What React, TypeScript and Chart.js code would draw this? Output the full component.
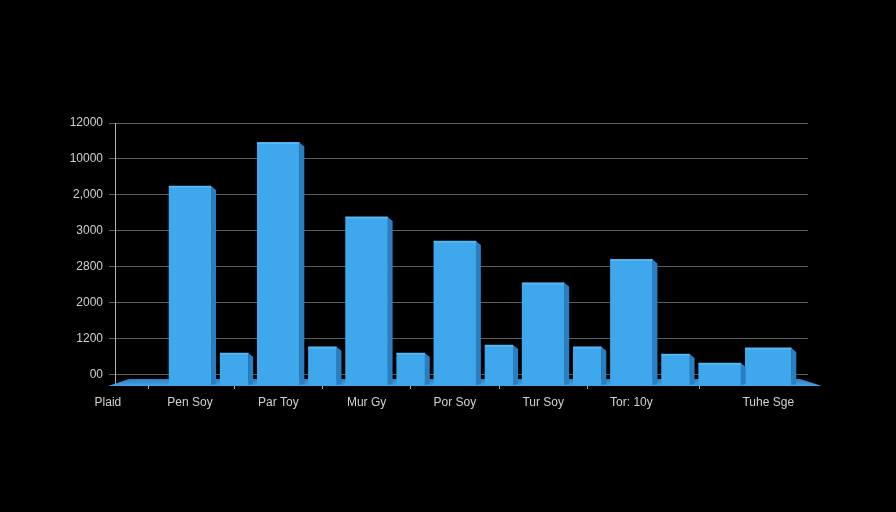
import React, { useEffect, useRef } from "react";
import { Chart, registerables } from "chart.js";

Chart.register(...registerables);

// Axis labels (as printed in the picture)
const xTickLabels = ["Plaid", "Pen Soy", "Par Toy", "Mur Gy", "Por Soy", "Tur Soy", "Tor: 10y", "Tuhe Sge"];
const xTickValues = [0.07, 1, 2, 3, 4, 5, 6, 7.55];
const yTickLabels = ["00", "1200", "2000", "2800", "3000", "2,000", "10000", "12000"];
const yTickValues = [0, 1, 2, 3, 4, 5, 6, 7];

// Bars (values in gridline units)
const mainX = [1, 2, 3, 4, 5, 6, 7];
const mainValues = [5.25, 6.46, 4.39, 3.72, 2.56, 3.21, 0.33];
const secondaryX = [1.5, 2.5, 3.5, 4.5, 5.5, 6.5];
const secondaryValues = [0.61, 0.78, 0.61, 0.83, 0.78, 0.58];
const tailX = [7.55];
const tailValues = [0.75];

const X_MIN = 0.15;
const X_MAX = 8.0;
const Y_MIN = -0.28;
const Y_MAX = 7;

const FONT = { family: "'Liberation Sans', Arial, sans-serif", size: 12 };
const TEXT = "#d2d2d2";
const BAR = "#3fa7ec";
const SIDE = "#2a7fc2";

const floorPlugin = {
  id: "floor",
  beforeDatasetsDraw(chart: any) {
    const { ctx, chartArea } = chart;
    const { left, right, bottom } = chartArea;
    ctx.save();
    const g = ctx.createLinearGradient(0, bottom - 6, 0, bottom + 2);
    g.addColorStop(0, "#2f7fbf");
    g.addColorStop(1, "#47a9ee");
    ctx.fillStyle = g;
    ctx.beginPath();
    ctx.moveTo(left - 7, bottom + 1);
    ctx.lineTo(left + 14, bottom - 6);
    ctx.lineTo(right - 8, bottom - 6);
    ctx.lineTo(right + 14, bottom + 1);
    ctx.closePath();
    ctx.fill();
    ctx.restore();
  },
};

const sidePlugin = {
  id: "sides",
  afterDatasetsDraw(chart: any) {
    const { ctx } = chart;
    ctx.save();
    chart.data.datasets.forEach((_: any, di: number) => {
      const meta = chart.getDatasetMeta(di);
      meta.data.forEach((el: any) => {
        const { x, y, base, width } = el.getProps(["x", "y", "base", "width"], true);
        const r = x + width / 2;
        const d = 5;
        ctx.fillStyle = SIDE;
        ctx.beginPath();
        ctx.moveTo(r, y);
        ctx.lineTo(r + d, y + 4);
        ctx.lineTo(r + d, base - 1);
        ctx.lineTo(r, base);
        ctx.closePath();
        ctx.fill();
        ctx.fillStyle = "#5bb8f2";
        ctx.fillRect(x - width / 2, y, width, 1.5);
      });
    });
    ctx.restore();
  },
};

export default function App() {
  const ref = useRef<HTMLCanvasElement | null>(null);

  useEffect(() => {
    document.body.style.background = "#000";
    if (!ref.current) return;
    const common = { backgroundColor: BAR, base: Y_MIN, grouped: false, borderWidth: 0 };
    const chart = new Chart(ref.current, {
      type: "bar",
      data: {
        datasets: [
          { label: "main", data: mainX.map((x, i) => ({ x, y: mainValues[i] })), barThickness: 42, ...common } as any,
          { label: "secondary", data: secondaryX.map((x, i) => ({ x, y: secondaryValues[i] })), barThickness: 28, ...common } as any,
          { label: "tail", data: tailX.map((x, i) => ({ x, y: tailValues[i] })), barThickness: 46, ...common } as any,
        ],
      },
      plugins: [floorPlugin, sidePlugin],
      options: {
        animation: false,
        responsive: false,
        maintainAspectRatio: false,
        layout: { padding: { left: 0, top: 123, right: 88, bottom: 97 } },
        plugins: { legend: { display: false }, tooltip: { enabled: false } },
        scales: {
          x: {
            type: "linear",
            min: X_MIN,
            max: X_MAX,
            offset: false,
            afterBuildTicks: (s: any) => {
              s.ticks = xTickValues.map((v) => ({ value: v }));
            },
            afterFit: (s: any) => {
              s.height = 30;
            },
            ticks: {
              autoSkip: false,
              maxRotation: 0,
              padding: 6,
              color: TEXT,
              font: FONT,
              callback: (v: any) => {
                const i = xTickValues.indexOf(Number(v));
                return i >= 0 ? xTickLabels[i] : "";
              },
            },
            grid: { drawOnChartArea: false, drawTicks: true, tickLength: 4, color: "#8fb6d6" },
            border: { display: true, color: "#8fc4ee", width: 1 },
          },
          y: {
            type: "linear",
            min: Y_MIN,
            max: Y_MAX,
            afterBuildTicks: (s: any) => {
              s.ticks = yTickValues.map((v) => ({ value: v }));
            },
            afterFit: (s: any) => {
              s.width = 115;
            },
            ticks: {
              padding: 6,
              color: TEXT,
              font: FONT,
              callback: (v: any) => {
                const i = yTickValues.indexOf(Number(v));
                return i >= 0 ? yTickLabels[i] : "";
              },
            },
            grid: { color: "#5e5e5e", lineWidth: 1, drawTicks: true, tickLength: 6 },
            border: { display: true, color: "#b0b0b0", width: 1 },
          },
        },
      },
    } as any);
    return () => chart.destroy();
  }, []);

  return (
    <div style={{ position: "fixed", left: 0, top: 0, width: 896, height: 512, background: "#000" }}>
      <canvas ref={ref} width={896} height={512} style={{ display: "block", width: 896, height: 512 }} />
    </div>
  );
}
